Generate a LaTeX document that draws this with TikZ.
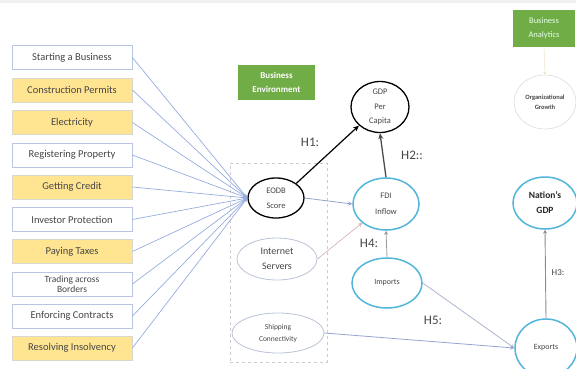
\documentclass[tikz,border=0pt]{standalone}
\usepackage{fontspec}
\setmainfont{Carlito}
\usetikzlibrary{arrows.meta,shapes.geometric}
\definecolor{yel}{RGB}{255,228,146}
\definecolor{ybord}{RGB}{218,216,205}
\definecolor{boxb}{RGB}{185,198,225}
\definecolor{txt}{RGB}{70,70,70}
\definecolor{fanc}{RGB}{150,172,222}
\definecolor{cyanb}{RGB}{82,182,218}
\definecolor{bgreen}{RGB}{112,173,71}
\definecolor{lightb}{RGB}{185,195,215}
\definecolor{frame}{RGB}{210,200,205}
\begin{document}
\begin{tikzpicture}[x=1pt,y=-1pt,
  lbox/.style={draw=boxb, line width=0.8pt, minimum width=120pt, minimum height=24pt, inner sep=0pt, font=\fontsize{10.5}{11}\selectfont, text=txt, align=center},
  ybox/.style={lbox, fill=yel, draw=ybord},
  wbox/.style={lbox, fill=white},
  ell/.style={ellipse, inner sep=0pt, align=center, text=txt},
  blk/.style={ell, draw=black, line width=1.3pt, font=\fontsize{8.5}{15}\selectfont},
  cy/.style={ell, draw=cyanb, line width=1.5pt},
  lt/.style={ell, draw=lightb, line width=0.8pt},
  gbox/.style={fill=bgreen, text=white, inner sep=0pt, align=center},
  hlab/.style={font=\fontsize{13}{13}\selectfont, text=txt},
  fan/.style={draw=fanc, line width=0.7pt, -{Stealth[length=4pt,width=3pt]}}
]
\useasboundingbox (0,0) rectangle (576,368);
\fill[gray!12] (0,0) rectangle (576,3);

% left boxes
\node[wbox] (b1) at (72,57.5) {Starting a Business};
\node[ybox] (b2) at (72,90) {Construction Permits};
\node[ybox] (b3) at (72,122.5) {Electricity};
\node[wbox] (b4) at (72,155) {Registering Property};
\node[ybox] (b5) at (72,187) {Getting Credit};
\node[wbox] (b6) at (72,219.5) {Investor Protection};
\node[ybox] (b7) at (72,251.5) {Paying Taxes};
\node[wbox, font=\fontsize{9.5}{10.5}\selectfont] (b8) at (72,284) {Trading across\\Borders};
\node[wbox] (b9) at (72,316) {Enforcing Contracts};
\node[ybox] (b10) at (72,348) {Resolving Insolvency};

% group frame
\node[draw=frame, dashed, line width=0.6pt, minimum width=97pt, minimum height=199pt, inner sep=0pt] (grp) at (278.5,262.5) {};

% green boxes
\node[gbox, minimum width=77pt, minimum height=35pt, font=\bfseries\fontsize{9}{14}\selectfont] (be) at (276.5,82.5) {Business\\Environment};
\node[gbox, minimum width=62pt, minimum height=37pt, font=\fontsize{8.5}{14}\selectfont, text=white!90!green] (ba) at (544,28.5) {Business\\Analytics};

% ellipses
\node[blk, minimum width=56pt, minimum height=40pt] (eodb) at (276,198) {EODB\\Score};
\node[blk, minimum width=58pt, minimum height=51pt, font=\fontsize{8.5}{14.5}\selectfont] (gdp) at (380,107) {GDP\\Per\\Capita};
\node[cy, minimum width=66pt, minimum height=52pt, font=\fontsize{8.5}{15.5}\selectfont] (fdi) at (386,204) {FDI\\Inflow};
\node[lt, minimum width=80pt, minimum height=42pt, font=\fontsize{10}{15}\selectfont] (inet) at (277,259) {Internet\\Servers};
\node[lt, minimum width=92pt, minimum height=40pt, font=\fontsize{7.5}{12}\selectfont] (ship) at (278,333) {Shipping\\Connectivity};
\node[cy, minimum width=70pt, minimum height=50pt, font=\fontsize{8}{9}\selectfont] (imp) at (387,283) {Imports};
\node[cy, minimum width=62pt, minimum height=58pt, font=\fontsize{8}{9}\selectfont] (exp) at (546,348) {Exports};
\node[cy, minimum width=64pt, minimum height=52pt, font=\bfseries\fontsize{9.5}{15}\selectfont, text=black!85] (nat) at (545,203) {Nation's\\GDP};
\node[ell, draw=frame!70, line width=0.6pt, minimum width=62pt, minimum height=54pt, font=\bfseries\fontsize{6.5}{10}\selectfont] (org) at (545,102) {Organizational\\Growth};

% fan connectors
\coordinate (fanpt) at (eodb.west);
\foreach \b in {b1,b2,b3,b4,b5,b6,b7,b8,b9,b10}
  \draw[fan] (\b.east) -- (fanpt);

% main connectors
\draw[black, line width=1.2pt, -{Stealth[length=6pt,width=5pt]}] (eodb.north east) -- (gdp.south west);
\draw[black!70, line width=1.3pt, -{Stealth[length=6pt,width=5pt]}] (fdi.north) -- (gdp.south);
\draw[fanc!80!gray, line width=0.8pt, -{Stealth[length=4pt,width=4pt]}] (eodb.east) -- (fdi.west);
\draw[frame!90!red, line width=0.7pt, -{Stealth[length=4pt,width=4pt,fill=cyanb]}] (inet.east) -- (fdi.south west);
\draw[gray!80, line width=0.8pt, -{Stealth[length=4pt,width=4pt]}] (imp.north) -- (fdi.south);
\draw[lightb!90!gray, line width=0.9pt, -{Stealth[length=4pt,width=4pt]}] (imp.east) -- (exp.west);
\draw[fanc!85!gray, line width=0.8pt, -{Stealth[length=4pt,width=4pt]}] (ship.east) -- (exp.west);
\draw[gray!90, line width=0.9pt, -{Stealth[length=4pt,width=4pt]}] (exp.north) -- (nat.south);
\draw[yel!70!gray!50, line width=0.5pt, -{Stealth[length=3pt,width=3pt]}] (ba.south) -- (org.north);

% labels
\node[hlab] (h1) at (310,142) {H1:};
\node[hlab] (h2) at (412,155) {H2::};
\node[hlab, font=\fontsize{9}{9}\selectfont] (h3) at (558,273) {H3:};
\node[hlab] (h4) at (369,243) {H4:};
\node[hlab] (h5) at (433,320) {H5:};
\end{tikzpicture}
\end{document}
